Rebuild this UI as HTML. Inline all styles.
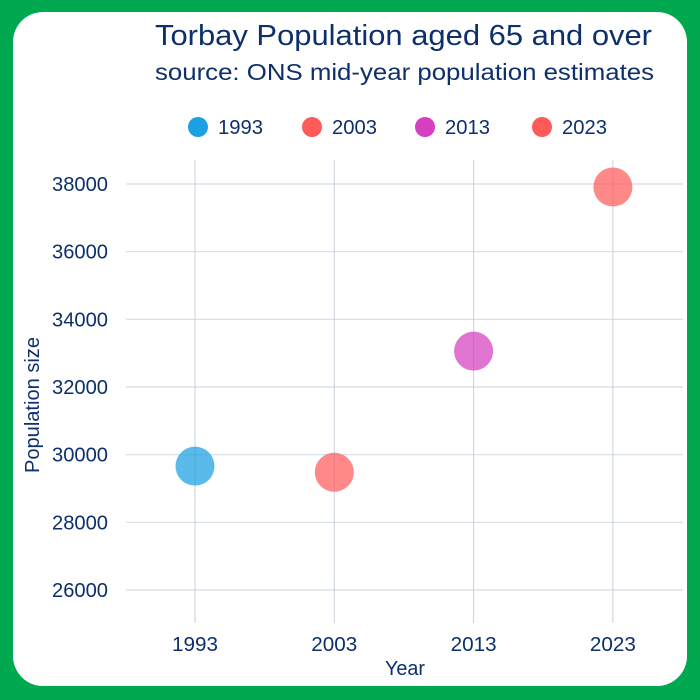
<!DOCTYPE html>
<html><head><meta charset="utf-8"><style>
html,body{margin:0;padding:0;background:#00a84f;}
body{width:700px;height:700px;overflow:hidden;font-family:"Liberation Sans",sans-serif;}
#frame{position:absolute;left:0;top:0;width:700px;height:700px;background:#00a84f;border-radius:40px;}
#inner{position:absolute;left:13px;top:12px;width:674px;height:674px;background:#fff;border-radius:30px;}
svg{position:absolute;left:0;top:0;}
text{fill:#0d2f6b;font-family:"Liberation Sans",sans-serif;}
</style></head><body>
<div id="frame"><div id="inner"></div></div>
<svg id="chart" width="700" height="700">
<text x="155" y="45" font-size="29" textLength="497" lengthAdjust="spacingAndGlyphs">Torbay Population aged 65 and over</text>
<text x="155" y="80" font-size="23" textLength="499" lengthAdjust="spacingAndGlyphs">source: ONS mid-year population estimates</text>
<g id="grid"></g><g id="legend"></g><g id="marks"></g>
<text x="385" y="675" font-size="20" textLength="40" lengthAdjust="spacingAndGlyphs">Year</text>
<text transform="translate(39,473) rotate(-90)" font-size="20" textLength="136" lengthAdjust="spacingAndGlyphs">Population size</text>
</svg>
<script>
const categories=["1993","2003","2013","2023"];
const values=[29660,29480,33060,37910];
const colors=["#1ba1e2","#ff5a5a","#d63fbf","#ff5a5a"];
const yTicks=[26000,28000,30000,32000,34000,36000,38000];
const NS="http://www.w3.org/2000/svg";
function x(i){return 195+i*139.3;}
function y(v){return 590-(v-26000)*(406/12000);}
function mk(t,a,p){const e=document.createElementNS(NS,t);for(const k in a)e.setAttribute(k,a[k]);p.appendChild(e);return e;}
const grid=document.getElementById('grid');
yTicks.forEach(t=>{
 const l=mk('line',{x1:126,x2:683,y1:y(t),y2:y(t),stroke:'#d5dbe5','stroke-width':1.2},grid);
 
 
 const tx=mk('text',{x:52,y:y(t)+7,'font-size':20,textLength:56,lengthAdjust:'spacingAndGlyphs'},grid);tx.textContent=t;
 
 
});
categories.forEach((c,i)=>{
 const l=mk('line',{x1:x(i),x2:x(i),y1:160,y2:623,stroke:'#c9d0dc','stroke-width':1},grid);
 
 
 const tx=mk('text',{x:x(i)-23,y:651,'font-size':20,textLength:46,lengthAdjust:'spacingAndGlyphs'},grid);tx.textContent=c;
 
 
});
const marks=document.getElementById('marks');
values.forEach((v,i)=>{
 const c=mk('circle',{cx:x(i),cy:y(v),r:19.5,fill:colors[i],'fill-opacity':0.72},marks);
 
 
});
const leg=document.getElementById('legend');
const lx=[198,312,425,542];
categories.forEach((c,i)=>{
 const g=mk('g',{},leg);
 
 
 mk('circle',{cx:lx[i],cy:127,r:10,fill:colors[i]},g);
 const t=mk('text',{x:lx[i]+20,y:134,'font-size':20,textLength:45,lengthAdjust:'spacingAndGlyphs'},g);t.textContent=c;
});
</script>
</body></html>
